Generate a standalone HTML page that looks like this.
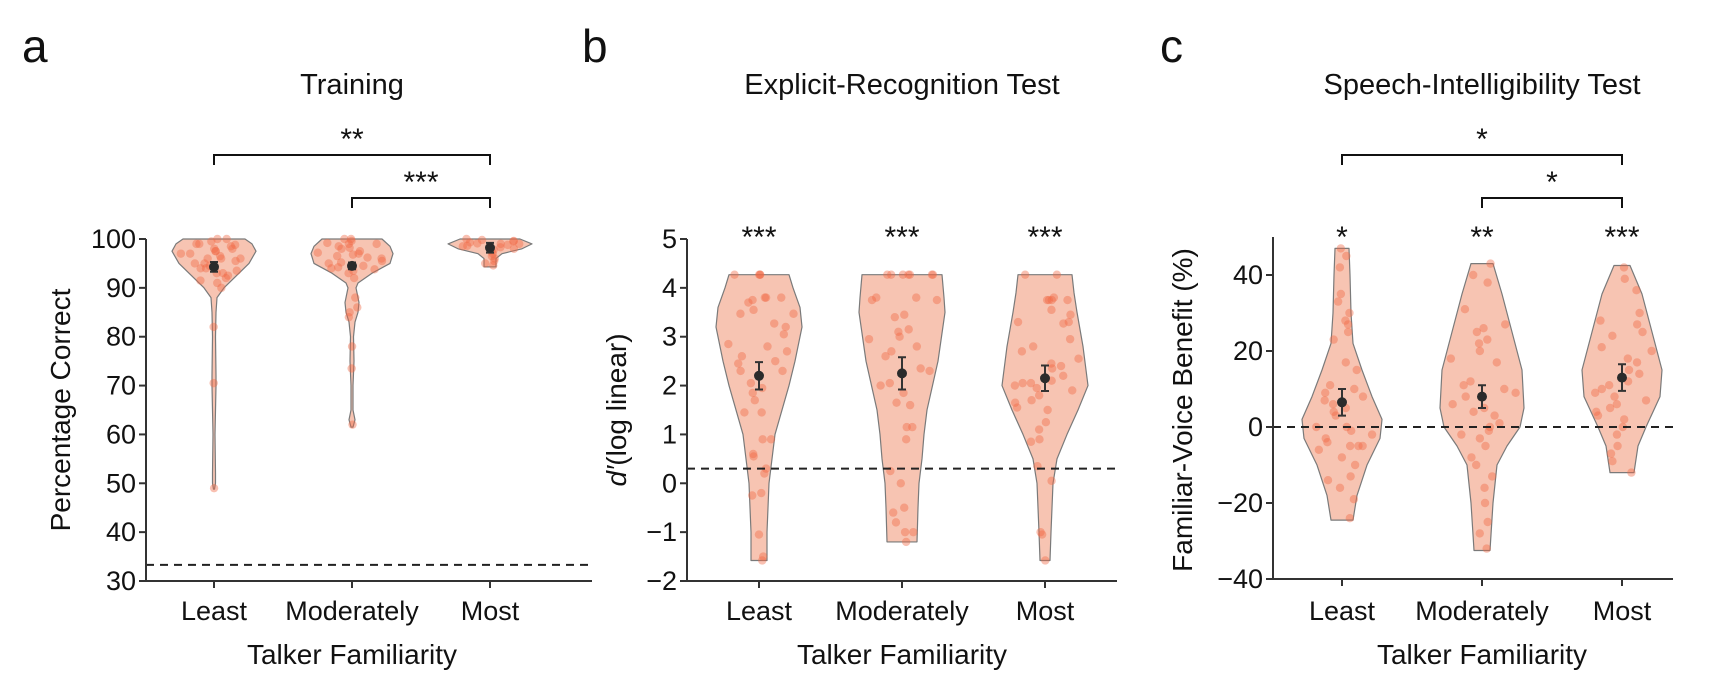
<!DOCTYPE html>
<html><head><meta charset="utf-8"><style>
html,body{margin:0;padding:0;background:#fff;}
svg{display:block;}
text{font-family:"Liberation Sans Narrow","Liberation Sans",sans-serif;fill:#111;}
</style></head><body>
<svg id="fig" width="1711" height="688" viewBox="0 0 1711 688" xmlns="http://www.w3.org/2000/svg"></svg>
<script>
// ---------- DATA ----------
const categories = ["Least","Moderately","Most"];
// Panel a: Training (percentage correct)
const aTicks = [30,40,50,60,70,80,90,100];
const aMeans = [94.3, 94.5, 98.2];
const aErrs = [1.0, 0.7, 1.0];
const aChance = 33.3;
const aProfileLeast = [[100,31],[99,38],[97.5,42],[95,35],[92,20],[90,10],[88,3],[85,2],[80,1.5],[72,2],[70,2],[60,1],[52,1.5],[50,1.5],[48.8,0.5]];
const aProfileMod = [[100,30],[98.5,38],[97,41],[95,38],[93,20],[91,6],[90,4],[87,7],[85,6],[83,3],[80,1.5],[75,2],[70,1],[65,1],[63,3],[61.5,1]];
const aProfileMost = [[100,30],[99,42],[98,32],[97,12],[96,6],[94.5,6],[94.3,6]];
const aPtsLeast = [100,100,99.5,99,98.8,98.5,98,97.5,97.5,97,96.5,96,96,95.5,95,94.5,94,93.5,93,92.5,92,91.5,91,90,99,98,97,96,95,94,93,82,70.5,49];
const aPtsMod = [100,100,99.6,99.2,99,98.5,98,97.5,97,96.8,96.5,96,95.5,95,94.5,94,93.8,93.5,93,92,99,98.2,97.2,96.2,95.2,94.2,88,86,85,84,78,73.5,62];
const aPtsMost = [100,99.8,99.5,99.3,99,99,98.8,98.5,98.3,98,97.8,97.5,97,96.5,96,95.5,95,94.6,99.6,99.1,98.6];
// Panel b: Explicit recognition (d')
const bTicks = [-2,-1,0,1,2,3,4,5];
const bMeans = [2.2, 2.25, 2.15];
const bErrs = [0.28, 0.33, 0.26];
const bChance = 0.3;
const bProfileLeast = [[4.27,30],[4.0,34],[3.6,41],[3.2,43],[2.5,36],[2.0,30],[1.0,16],[0,10],[-1,8],[-1.58,8]];
const bProfileMod = [[4.27,40],[3.8,42],[3.5,43],[2.5,36],[1.5,25],[1.0,22],[0.5,20],[0,17],[-0.5,16],[-1.2,15]];
const bProfileMost = [[4.27,27],[3.9,29],[3.5,32],[2.8,38],[2.0,43],[1.5,33],[1.0,22],[0.5,12],[0,8],[-1,6],[-1.58,5]];
const bPtsLeast = [4.27,4.27,4.27,4.27,3.8,3.8,3.75,3.8,3.7,3.55,3.47,3.47,3.27,3.2,3.05,2.85,2.8,2.7,2.6,2.5,2.45,2.3,2.3,2.05,1.95,1.85,1.7,1.45,1.45,0.9,0.9,0.6,0.55,0.2,0.3,-0.2,-0.25,-1.05,-1.5,-1.58];
const bPtsMod = [4.27,4.27,4.27,4.27,4.27,4.27,4.27,3.8,3.8,3.75,3.75,3.45,3.4,3.15,3.1,3.0,2.95,2.8,2.7,2.6,2.35,2.3,2.05,2.0,1.85,1.65,1.6,1.15,1.15,0.9,0.25,0.0,-0.5,-0.6,-0.8,-1.0,-1.0,-1.2];
const bPtsMost = [4.27,4.27,3.8,3.75,3.75,3.75,3.75,3.55,3.45,3.3,3.3,3.27,2.95,2.8,2.7,2.55,2.45,2.4,2.35,2.2,2.1,2.05,2.05,2.0,1.95,1.9,1.8,1.7,1.65,1.55,1.5,1.25,1.1,0.9,0.85,0.35,0.05,-1.0,-1.05,-1.58];
// Panel c: Speech intelligibility (familiar-voice benefit %)
const cTicks = [-40,-20,0,20,40];
const cMeans = [6.5, 8, 13];
const cErrs = [3.5, 3, 3.5];
const cChance = 0;
const cProfileLeast = [[47,7],[40,8],[30,9],[22,11],[15,20],[8,30],[2,40],[-3,38],[-10,25],[-18,15],[-24.5,11]];
const cProfileMod = [[43,11],[35,20],[25,30],[15,40],[5,42],[0,38],[-5,25],[-10,15],[-20,11],[-32.5,8]];
const cProfileMost = [[42.5,8],[35,20],[25,30],[15,40],[8,38],[0,24],[-5,16],[-12,12]];
const cPtsLeast = [47,45,42,35,33,30,28,27,25,23,17,15,11,10,9,8,7,6,5,4,3,0,0,-1,-2,-3,-4,-5,-5,-5,-6,-8,-10,-13,-14,-16,-19,-24];
const cPtsMod = [43,40,38,31,27,26,25,23,22,20,18,17,12,11,10,9,8,6,5,4,3,1,0,-1,-2,-3,-5,-8,-10,-13,-16,-20,-25,-28,-32];
const cPtsMost = [42,39,36,30,28,27,25,24,21,20,18,17,15,14,12,11,10,9,8,7,6,5,4,3,2,0,-2,-5,-7,-9,-12];

// ---------- LAYOUT ----------
const NS = "http://www.w3.org/2000/svg";
const svg = document.getElementById("fig");
function mk(tag, attrs, parent){
  const e = document.createElementNS(NS, tag);
  for (const k in attrs) e.setAttribute(k, attrs[k]);
  (parent||svg).appendChild(e);
  return e;
}
function jit(i){ const s = Math.sin(i*12.9898+78.233)*43758.5453; return (s - Math.floor(s))*2 - 1; }
function hwAt(profile, v){
  if (v >= profile[0][0]) return profile[0][1];
  for (let i=0;i<profile.length-1;i++){
    const a=profile[i], b=profile[i+1];
    if (v<=a[0] && v>=b[0]){ const t=(a[0]-v)/(a[0]-b[0]); return a[1]+(b[1]-a[1])*t; }
  }
  return profile[profile.length-1][1];
}

function panel(cfg){
  const g = mk("g", {});
  
  
  const yS = v => cfg.y0 + (v - cfg.vmin)/(cfg.vmax - cfg.vmin)*(cfg.y1 - cfg.y0);
  const xS = i => cfg.cx[i];
  // violins
  cfg.profiles.forEach((p,i)=>{
    let d = "";
    p.forEach((q,k)=>{ d += (k?"L":"M") + (xS(i)-q[1]) + "," + yS(q[0]); });
    for (let k=p.length-1;k>=0;k--) d += "L" + (xS(i)+p[k][1]) + "," + yS(p[k][0]);
    d += "Z";
    const v = mk("path", {d:d, fill:"#f7c4b2", stroke:"#7a7a7a", "stroke-width":1.2, "stroke-linejoin":"round"}, g);
    
    
  });
  // points
  cfg.points.forEach((pts,i)=>{
    pts.forEach((val,k)=>{
      const hw = hwAt(cfg.profiles[i], val);
      const c = mk("circle", {cx: xS(i) + jit(k+i*50+cfg.seed)*hw*0.85, cy: yS(val), r:4.2, fill:"rgba(240,105,70,0.42)"}, g);
      
      
    });
  });
  // chance line
  const cl = mk("line", {x1: cfg.axX, x2: cfg.axEnd, y1: yS(cfg.chance), y2: yS(cfg.chance), stroke:"#222", "stroke-width":2, "stroke-dasharray":"8,6"}, g);
  
  
  // means + error bars
  cfg.means.forEach((m,i)=>{
    const e = cfg.errs[i], x = xS(i);
    const eb = mk("path", {d:`M${x},${yS(m+e)}V${yS(m-e)}M${x-4},${yS(m+e)}H${x+4}M${x-4},${yS(m-e)}H${x+4}`, stroke:"#333", "stroke-width":2, fill:"none"}, g);
    
    
    const md = mk("circle", {cx:x, cy:yS(m), r:5, fill:"#2b2b2b"}, g);
    
    
  });
  // axes
  const ya = mk("line", {x1:cfg.axX, x2:cfg.axX, y1:yS(cfg.axTop), y2:cfg.y0, stroke:"#333", "stroke-width":2}, g);
  
  
  const xa = mk("line", {x1:cfg.axX-1, x2:cfg.axEnd, y1:cfg.y0, y2:cfg.y0, stroke:"#333", "stroke-width":2}, g);
  
  
  cfg.ticks.forEach(t=>{
    mk("line", {x1:cfg.axX-7, x2:cfg.axX, y1:yS(t), y2:yS(t), stroke:"#333", "stroke-width":2}, g);
    const tl = mk("text", {x:cfg.axX-10, y:yS(t)+9, "text-anchor":"end", "font-size":27}, g);
    tl.textContent = (t<0 ? "\u2212"+Math.abs(t) : String(t));
    
    
  });
  categories.forEach((c,i)=>{
    mk("line", {x1:xS(i), x2:xS(i), y1:cfg.y0, y2:cfg.y0+7, stroke:"#333", "stroke-width":2}, g);
    const tl = mk("text", {x:xS(i), y:620, "text-anchor":"middle", "font-size":27}, g);
    tl.textContent = c;
    
    
  });
  const xt = mk("text", {x:(cfg.cx[0]+cfg.cx[2])/2, y:664, "text-anchor":"middle", "font-size":28}, g);
  xt.textContent = "Talker Familiarity";
  
  
  const yt = mk("text", {x:0, y:0, "text-anchor":"middle", "font-size":28, transform:`translate(${cfg.ylx},${cfg.yly}) rotate(-90)`}, g);
  if (cfg.italicD){
    const t1 = mk("tspan", {"font-style":"italic"}, yt); t1.textContent = "d\u2032";
    const t2 = mk("tspan", {}, yt); t2.textContent = "(log linear)";
  } else yt.textContent = cfg.ylabel;
  
  
  const ti = mk("text", {x:cfg.titleX, y:94, "text-anchor":"middle", "font-size":29}, g);
  ti.textContent = cfg.title;
  
  
  const lt = mk("text", {x:cfg.letterX, y:62, "font-size":46}, g);
  lt.textContent = cfg.letter;
  
  
  (cfg.stars||[]).forEach((s,i)=>{
    const st = mk("text", {x:xS(i), y:247, "text-anchor":"middle", "font-size":30}, g);
    st.textContent = s;
    
    
  });
  (cfg.brackets||[]).forEach(b=>{
    const x1 = xS(b.from), x2 = xS(b.to);
    const br = mk("path", {d:`M${x1},${b.y+10}V${b.y}H${x2}V${b.y+10}`, stroke:"#111", "stroke-width":2, fill:"none"}, g);
    
    
    const st = mk("text", {x:(x1+x2)/2, y:b.y-6, "text-anchor":"middle", "font-size":30}, g);
    st.textContent = b.label;
    
    
  });
}

panel({name:"panel-a-training", letter:"a", letterX:22, title:"Training", titleX:352,
  vmin:30, vmax:100, y0:581, y1:239, axTop:100, axX:146, axEnd:592, cx:[214,352,490],
  ticks:aTicks, means:aMeans, errs:aErrs, chance:aChance,
  profiles:[aProfileLeast,aProfileMod,aProfileMost], points:[aPtsLeast,aPtsMod,aPtsMost], seed:1,
  ylabel:"Percentage Correct", ylx:70, yly:410,
  brackets:[{from:0,to:2,y:155,label:"**"},{from:1,to:2,y:198,label:"***"}]});

panel({name:"panel-b-explicit-recognition", letter:"b", letterX:582, title:"Explicit-Recognition Test", titleX:902,
  vmin:-2, vmax:5, y0:581, y1:239, axTop:5, axX:687, axEnd:1117, cx:[759,902,1045],
  ticks:bTicks, means:bMeans, errs:bErrs, chance:bChance,
  profiles:[bProfileLeast,bProfileMod,bProfileMost], points:[bPtsLeast,bPtsMod,bPtsMost], seed:7,
  italicD:true, ylx:626, yly:410, stars:["***","***","***"]});

panel({name:"panel-c-speech-intelligibility", letter:"c", letterX:1160, title:"Speech-Intelligibility Test", titleX:1482,
  vmin:-40, vmax:40, y0:579, y1:275, axTop:50, axX:1273, axEnd:1673, cx:[1342,1482,1622],
  ticks:cTicks, means:cMeans, errs:cErrs, chance:cChance,
  profiles:[cProfileLeast,cProfileMod,cProfileMost], points:[cPtsLeast,cPtsMod,cPtsMost], seed:13,
  ylabel:"Familiar-Voice Benefit (%)", ylx:1192, yly:410, stars:["*","**","***"],
  brackets:[{from:0,to:2,y:155,label:"*"},{from:1,to:2,y:198,label:"*"}]});
</script>
</body></html>
